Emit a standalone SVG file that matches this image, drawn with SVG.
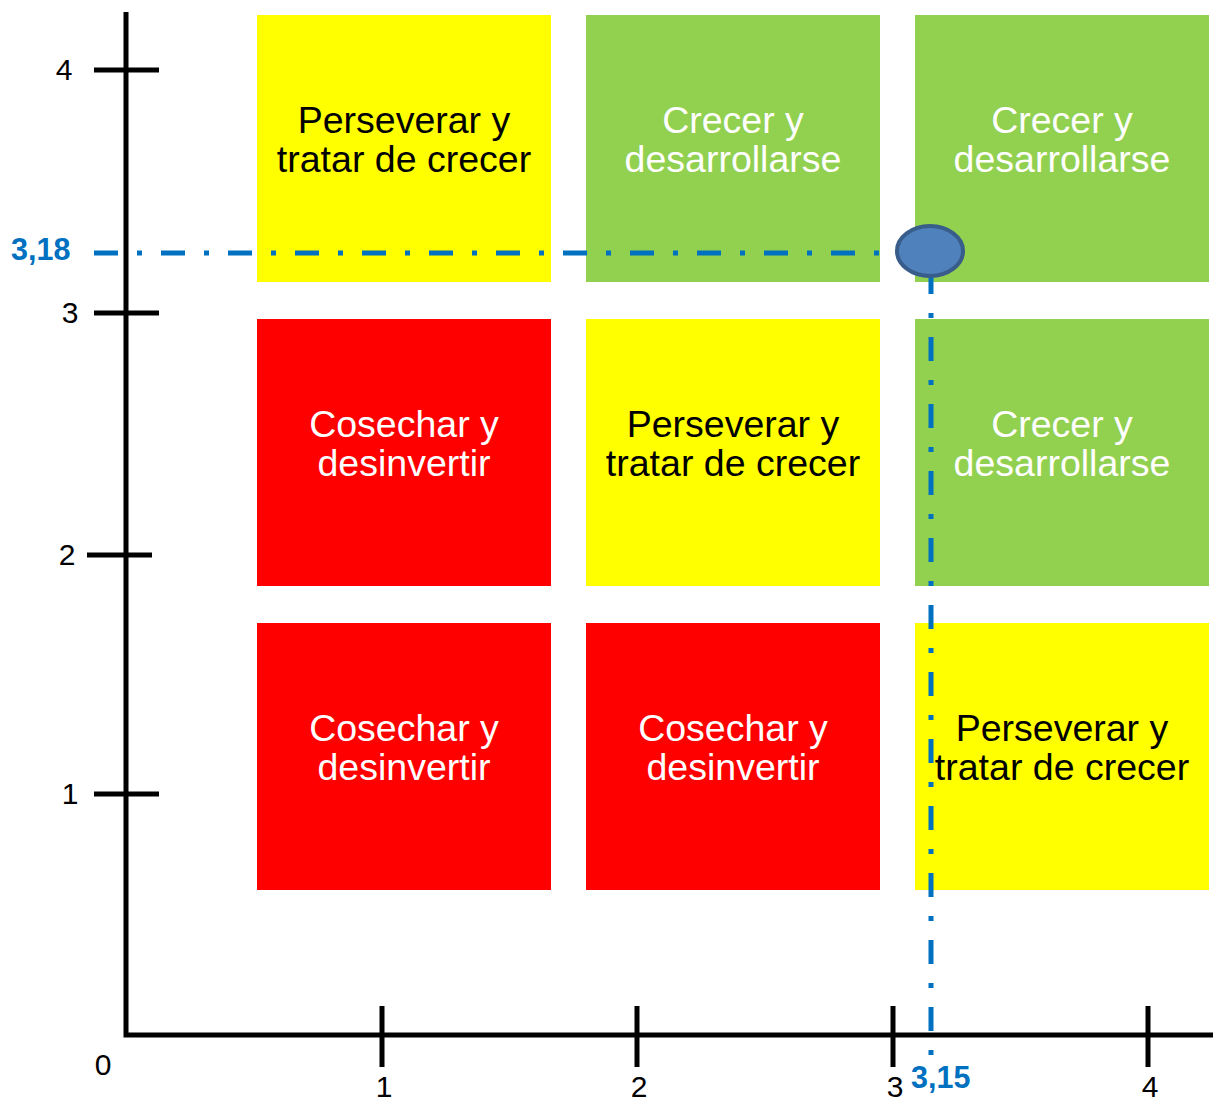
<svg xmlns="http://www.w3.org/2000/svg" width="1213" height="1097" viewBox="0 0 1213 1097">
<style>
.box text{font-family:"Liberation Sans",Arial,sans-serif;font-size:37.5px;text-anchor:middle}
.y{fill:#FFFF00}.g{fill:#92D050}.r{fill:#FF0000}
.dk{fill:#000}.wt{fill:#fff}
.ax{stroke:#000;stroke-width:5;fill:none}
.lbl{font-family:"Liberation Sans",Arial,sans-serif;font-size:30px;fill:#000;text-anchor:middle}
.val{font-family:"Liberation Sans",Arial,sans-serif;font-size:30.5px;font-weight:bold;fill:#0070C0}
.dd{stroke:#0070C0;stroke-width:5;fill:none;stroke-dasharray:24 19 5 19}
</style>
<rect width="1213" height="1097" fill="#fff"/>
<g id="box-1-4" class="box"><rect class="y" x="257" y="15" width="294" height="267"/><text class="dk" x="404" y="133">Perseverar y</text><text class="dk" x="404" y="172">tratar de crecer</text></g>
<g id="box-2-4" class="box"><rect class="g" x="586" y="15" width="294" height="267"/><text class="wt" x="733" y="133">Crecer y</text><text class="wt" x="733" y="172">desarrollarse</text></g>
<g id="box-3-4" class="box"><rect class="g" x="915" y="15" width="294" height="267"/><text class="wt" x="1062" y="133">Crecer y</text><text class="wt" x="1062" y="172">desarrollarse</text></g>
<g id="box-1-3" class="box"><rect class="r" x="257" y="319" width="294" height="267"/><text class="wt" x="404" y="437">Cosechar y</text><text class="wt" x="404" y="476">desinvertir</text></g>
<g id="box-2-3" class="box"><rect class="y" x="586" y="319" width="294" height="267"/><text class="dk" x="733" y="437">Perseverar y</text><text class="dk" x="733" y="476">tratar de crecer</text></g>
<g id="box-3-3" class="box"><rect class="g" x="915" y="319" width="294" height="267"/><text class="wt" x="1062" y="437">Crecer y</text><text class="wt" x="1062" y="476">desarrollarse</text></g>
<g id="box-1-2" class="box"><rect class="r" x="257" y="623" width="294" height="267"/><text class="wt" x="404" y="741">Cosechar y</text><text class="wt" x="404" y="780">desinvertir</text></g>
<g id="box-2-2" class="box"><rect class="r" x="586" y="623" width="294" height="267"/><text class="wt" x="733" y="741">Cosechar y</text><text class="wt" x="733" y="780">desinvertir</text></g>
<g id="box-3-2" class="box"><rect class="y" x="915" y="623" width="294" height="267"/><text class="dk" x="1062" y="741">Perseverar y</text><text class="dk" x="1062" y="780">tratar de crecer</text></g>
<g id="axes">
<path class="ax" d="M126 12V1035H1213"/>
<path class="ax" d="M94 70H159M94 313H159M87 555H152M94 794H159M382 1006V1067M637 1006V1067M893 1006V1067M1148 1006V1067"/>
<text class="lbl" x="64" y="80">4</text>
<text class="lbl" x="70" y="323">3</text>
<text class="lbl" x="67" y="565">2</text>
<text class="lbl" x="70" y="804">1</text>
<text class="lbl" x="103" y="1075">0</text>
<text class="lbl" x="384" y="1097">1</text>
<text class="lbl" x="639" y="1097">2</text>
<text class="lbl" x="895" y="1097">3</text>
<text class="lbl" x="1150" y="1097">4</text>
</g>
<g id="connectors">
<path class="dd" d="M94 253H898"/>
<path class="dd" d="M931 270V1062"/>
</g>
<g id="point"><ellipse cx="930" cy="251" rx="33" ry="25" fill="#4F81BD" stroke="#385D8A" stroke-width="4"/></g>
<text class="val" x="11" y="260">3,18</text>
<text class="val" x="911" y="1088">3,15</text>
</svg>
